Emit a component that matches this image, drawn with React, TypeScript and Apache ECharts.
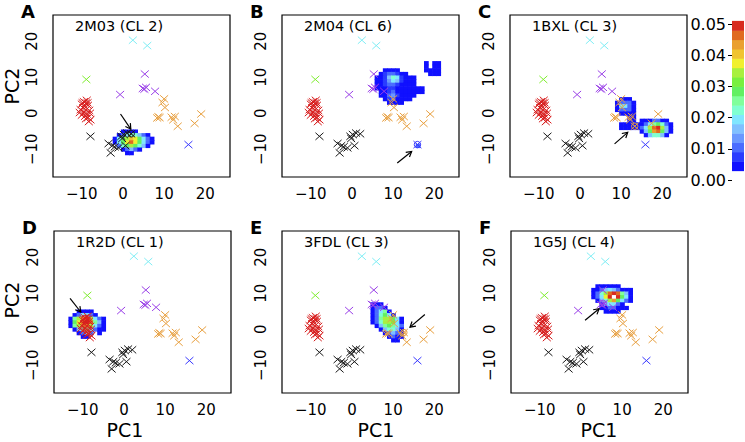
import React, { useEffect, useRef } from "react";
import * as echarts from "echarts";

// ---------- data ----------
const panelLetters = ["A", "B", "C", "D", "E", "F"];
const panelTitles = ["2M03 (CL 2)", "2M04 (CL 6)", "1BXL (CL 3)", "1R2D (CL 1)", "3FDL (CL 3)", "1G5J (CL 4)"];
const xTicks = [-10, 0, 10, 20];
const yTicks = [-10, 0, 10, 20];
const colorbarTicks = [0, 0.01, 0.02, 0.03, 0.04, 0.05];

// cluster points (PC1, PC2)
const redPts = [
  [-9.5, 3.2], [-9.0, 2.8], [-8.8, 3.6], [-10.0, 2.5], [-9.3, 2.0], [-8.5, 2.2], [-9.7, 1.5],
  [-10.3, 1.0], [-9.0, 1.0], [-8.2, 0.8], [-9.5, 0.3], [-8.8, -0.2], [-10.0, -0.5], [-9.2, -0.8],
  [-8.5, -1.2], [-7.9, -1.8], [-9.0, -1.5], [-8.0, 0.0], [-9.8, 2.9], [-8.6, 2.9], [-10.5, 0.2], [-8.3, -2.3],
];
const blackPts = [
  [-7.9, -6.4], [-3.5, -8.4], [-3.0, -11.0], [-2.0, -9.3], [-1.1, -9.6], [-0.4, -6.4],
  [0.2, -5.9], [0.6, -9.0], [1.0, -5.5], [2.0, -5.7], [-0.2, -7.0], [-2.6, -9.0],
];
const orangePts = [
  [10.0, 4.0], [9.6, 3.0], [10.2, 1.6], [8.6, -1.0], [8.3, -1.3], [8.9, -1.2],
  [11.8, -1.1], [12.6, -0.9], [12.2, -1.8], [13.3, -3.6], [17.4, -2.8], [19.0, -0.2],
];
const purplePts = [[5.3, 10.9], [-0.7, 5.2], [4.8, 6.9], [5.6, 7.2], [5.2, 6.7], [7.8, 6.1]];
const greenPts = [[-8.9, 9.4]];
const bluePts = [[15.9, -8.7]];
const cyanPts = [[2.4, 20.3], [5.9, 18.8]];

const clusterColors = ["#d81e1e", "#1a1a1a", "#e8a040", "#9a40e8", "#80ee30", "#3a3aff", "#80eef5"];
const clusterPts = [redPts, blackPts, orangePts, purplePts, greenPts, bluePts, cyanPts];

// colour bins of the density scale (0.003 .. 0.051, step 0.003)
const binLow = 0.003;
const binStep = 0.003;
const binColors = [
  "#1010ff", "#2a3cff", "#4a6cff", "#6a98ff", "#80c0ff", "#80e6ff", "#80ffd2", "#80ff9c",
  "#62f062", "#78f040", "#a8f040", "#f0f030", "#f0c430", "#eaa030", "#e06a20", "#d82a1e",
];
const levelCodes = "123456789abcdefgw";

// density grids: x0 = PC1 of first column, y0 = PC2 of first row, 1-unit cells
const heatA = [{ x0: -2, y0: -5, rows: [
  "..1111....",
  ".13677531.",
  "169bdc9631",
  "169cfc9631",
  ".379b9751.",
  "..13531...",
  "...11.....",
] }];
const heatB = [
  { x0: 6, y0: 12, rows: [
    "..1111......",
    ".1233211....",
    "1125762111..",
    "1124652111..",
    "1123321111..",
    "111221111111",
    ".11231111111",
    ".113421111..",
    "..1231111...",
    "...1111.....",
  ] },
  { x0: 18, y0: 14, rows: ["1.11", "1.11", "1111", ".111"] },
  { x0: 16, y0: -9, rows: ["3"] },
];
const heatC = [{ x0: 9, y0: 4, rows: [
  ".111..........",
  "13331.........",
  "16631.........",
  "13331.........",
  ".1111.........",
  "...11.........",
  "...11.1113311.",
  ".1111113689731",
  ".1111136bfgb51",
  "......159ef951",
  ".......157751.",
] }];
const heatD = [{ x0: -13, y0: 5, rows: [
  "..1111...",
  ".136631..",
  "18bcfb631",
  "19cfgf851",
  "18beeb631",
  ".15786311",
  "..1363.1.",
  "...11....",
] }];
const heatE = [{ x0: 5, y0: 7, rows: [
  "111......",
  "1331.....",
  "13681....",
  "137961...",
  "138bb961.",
  "137bba61.",
  ".1589863.",
  "..157751.",
  "...13531.",
  "....1311.",
  ".....11..",
] }];
const heatF = [{ x0: 3, y0: 12, rows: [
  ".111111...",
  "1135653111",
  "137bfgf851",
  "136cgwg961",
  ".157be9631",
  "..156631..",
  "..1133111.",
  "...1111...",
] }];
const heatPanels = [heatA, heatB, heatC, heatD, heatE, heatF];

// highlighted structure per panel: [PC1, PC2, cluster index]
const markers = [[2.0, -5.7, 1], [15.9, -8.7, 5], [13.3, -3.6, 2], [-9.5, 3.0, 0], [12.6, -0.9, 2], [5.4, 7.2, 3]];
// arrows per panel: [x1, y1, x2, y2]
const arrows = [
  [-0.6, -0.2, 1.9, -4.4],
  [11.0, -13.8, 14.5, -10.6],
  [8.4, -8.5, 11.6, -5.3],
  [-13.1, 8.6, -10.5, 4.8],
  [17.7, 4.1, 14.1, 0.6],
  [1.0, 2.5, 4.4, 5.7],
];

// ---------- layout ----------
const gridPos = [
  { left: 53, top: 15 }, { left: 282, top: 15 }, { left: 510, top: 15 },
  { left: 54, top: 231 }, { left: 282, top: 231 }, { left: 511, top: 231 },
];
const GW = 177;
const GH = 162;
const XMIN = -17, XMAX = 26, YMIN = -17.7, YMAX = 27.3;
const FONT = '"DejaVu Sans", sans-serif';

function valueOf(code: string) {
  const k = levelCodes.indexOf(code) + 1;
  return binLow + (k - 0.5) * binStep;
}
function colorOf(v: number) {
  const i = Math.floor((v - binLow) / binStep);
  if (i >= binColors.length) return "#ffffff";
  return binColors[Math.max(0, i)];
}

function buildOption() {
  const grid: any[] = [];
  const xAxis: any[] = [];
  const yAxis: any[] = [];
  const series: any[] = [];
  const minus = (v: number) => String(v).replace("-", "\u2212");

  const allPts: number[][] = [];
  clusterPts.forEach((arr, ci) => arr.forEach((p) => allPts.push([p[0], p[1], ci])));

  for (let i = 0; i < 6; i++) {
    grid.push({
      left: gridPos[i].left, top: gridPos[i].top, width: GW, height: GH,
      show: true, borderColor: "#000", borderWidth: 1.2, backgroundColor: "transparent",
    });
    xAxis.push({
      type: "value", gridIndex: i, min: XMIN, max: XMAX,
      axisLine: { show: false }, axisTick: { show: false }, splitLine: { show: false },
      axisLabel: { customValues: xTicks, formatter: minus, fontSize: 15, fontFamily: FONT, color: "#000", margin: 9 },
    });
    yAxis.push({
      type: "value", gridIndex: i, min: YMIN, max: YMAX,
      axisLine: { show: false }, axisTick: { show: false }, splitLine: { show: false },
      axisLabel: { customValues: yTicks, formatter: minus, rotate: 90, fontSize: 15, fontFamily: FONT, color: "#000", margin: 14 },
    });

    const cells: number[][] = [];
    heatPanels[i].forEach((patch) => {
      patch.rows.forEach((row, r) => {
        for (let c = 0; c < row.length; c++) {
          if (row[c] === ".") continue;
          cells.push([patch.x0 + c, patch.y0 - r, valueOf(row[c])]);
        }
      });
    });
    series.push({
      type: "custom", xAxisIndex: i, yAxisIndex: i, data: cells, silent: true, z: 1,
      renderItem: (_p: any, api: any) => {
        const x = api.value(0), y = api.value(1);
        const a = api.coord([x - 0.5, y + 0.5]);
        const b = api.coord([x + 0.5, y - 0.5]);
        return {
          type: "rect",
          shape: { x: a[0], y: a[1], width: b[0] - a[0] + 0.6, height: b[1] - a[1] + 0.6 },
          style: { fill: colorOf(api.value(2)) },
        };
      },
    });
    series.push({
      type: "custom", xAxisIndex: i, yAxisIndex: i, data: allPts, silent: true, z: 2,
      renderItem: (_p: any, api: any) => {
        const c = api.coord([api.value(0), api.value(1)]);
        const col = clusterColors[api.value(2)];
        const hx = 4, hy = 3.6;
        return {
          type: "group",
          children: [
            { type: "line", shape: { x1: c[0] - hx, y1: c[1] - hy, x2: c[0] + hx, y2: c[1] + hy }, style: { stroke: col, lineWidth: 1 } },
            { type: "line", shape: { x1: c[0] - hx, y1: c[1] + hy, x2: c[0] + hx, y2: c[1] - hy }, style: { stroke: col, lineWidth: 1 } },
          ],
        };
      },
    });
    series.push({
      type: "custom", xAxisIndex: i, yAxisIndex: i, data: [markers[i]], silent: true, z: 3,
      renderItem: (_p: any, api: any) => {
        const c = api.coord([api.value(0), api.value(1)]);
        const col = clusterColors[api.value(2)];
        const h = 2.2;
        return {
          type: "group",
          children: [
            { type: "circle", shape: { cx: c[0], cy: c[1], r: 3.2 }, style: { stroke: col, fill: "none", lineWidth: 1 } },
            { type: "line", shape: { x1: c[0] - h, y1: c[1] - h, x2: c[0] + h, y2: c[1] + h }, style: { stroke: col, lineWidth: 0.8 } },
            { type: "line", shape: { x1: c[0] - h, y1: c[1] + h, x2: c[0] + h, y2: c[1] - h }, style: { stroke: col, lineWidth: 0.8 } },
          ],
        };
      },
    });
    series.push({
      type: "custom", xAxisIndex: i, yAxisIndex: i, data: [arrows[i]], silent: true, z: 4,
      renderItem: (_p: any, api: any) => {
        const p1 = api.coord([api.value(0), api.value(1)]);
        const p2 = api.coord([api.value(2), api.value(3)]);
        const ang = Math.atan2(p2[1] - p1[1], p2[0] - p1[0]);
        const L = 6, A = Math.PI / 6;
        const h1 = [p2[0] - L * Math.cos(ang - A), p2[1] - L * Math.sin(ang - A)];
        const h2 = [p2[0] - L * Math.cos(ang + A), p2[1] - L * Math.sin(ang + A)];
        return {
          type: "group",
          children: [
            { type: "line", shape: { x1: p1[0], y1: p1[1], x2: p2[0], y2: p2[1] }, style: { stroke: "#000", lineWidth: 1.2 } },
            { type: "polyline", shape: { points: [h1, p2, h2] }, style: { stroke: "#000", fill: "none", lineWidth: 1.2 } },
          ],
        };
      },
    });
  }

  // colour bar
  grid.push({ left: 732, top: 24, width: 12, height: 156, show: false });
  xAxis.push({ type: "value", gridIndex: 6, min: 0, max: 1, show: false });
  yAxis.push({
    type: "value", gridIndex: 6, min: 0, max: 0.05, interval: 0.01,
    axisLine: { show: false }, splitLine: { show: false },
    axisTick: { show: true, length: 4, lineStyle: { color: "#000" } },
    axisLabel: { customValues: colorbarTicks, formatter: (v: number) => v.toFixed(2), fontSize: 16, fontFamily: FONT, color: "#000", margin: 6 },
  });
  series.push({
    type: "custom", xAxisIndex: 6, yAxisIndex: 6, silent: true, clip: false,
    data: binColors.map((_c, k) => [k]),
    renderItem: (_p: any, api: any) => {
      const k = api.value(0);
      const lo = binLow + k * binStep;
      const a = api.coord([0, lo + binStep]);
      const b = api.coord([1, lo]);
      return { type: "rect", shape: { x: a[0], y: a[1], width: b[0] - a[0], height: b[1] - a[1] + 0.5 }, style: { fill: binColors[k] } };
    },
  });

  const graphic: any[] = [];
  for (let i = 0; i < 6; i++) {
    const g = gridPos[i];
    graphic.push({
      type: "text", x: g.left - 32, y: g.top - 4,
      style: { text: panelLetters[i], font: `bold 18px ${FONT}`, fill: "#000", align: "left", verticalAlign: "middle", textAlign: "left", textVerticalAlign: "middle" },
    });
    graphic.push({
      type: "text", x: g.left + 22, y: g.top + 11,
      style: { text: panelTitles[i], font: `14.5px ${FONT}`, fill: "#000", align: "left", verticalAlign: "middle", textAlign: "left", textVerticalAlign: "middle" },
    });
  }
  [125, 376, 599].forEach((cx) => {
    graphic.push({
      type: "text", x: cx, y: 430,
      style: { text: "PC1", font: `19px ${FONT}`, fill: "#000", align: "center", verticalAlign: "middle", textAlign: "center", textVerticalAlign: "middle" },
    });
  });
  [86, 300].forEach((cy) => {
    graphic.push({
      type: "text", x: 12, y: cy, rotation: Math.PI / 2,
      style: { text: "PC2", font: `19px ${FONT}`, fill: "#000", align: "center", verticalAlign: "middle", textAlign: "center", textVerticalAlign: "middle" },
    });
  });

  return { animation: false, backgroundColor: "#fff", grid, xAxis, yAxis, series, graphic };
}

export default function App() {
  const ref = useRef<HTMLDivElement>(null);
  useEffect(() => {
    const chart = echarts.init(ref.current!, null, { renderer: "svg" });
    chart.setOption(buildOption() as any);
    return () => chart.dispose();
  }, []);
  return <div ref={ref} style={{ position: "fixed", left: 0, top: 0, width: 745, height: 442, background: "#fff" }} />;
}
